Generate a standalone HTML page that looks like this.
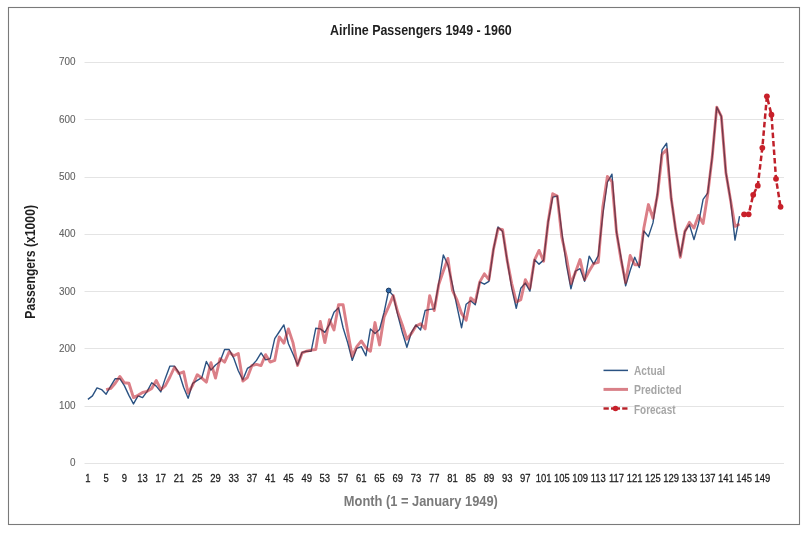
<!DOCTYPE html>
<html><head><meta charset="utf-8"><style>
html,body{margin:0;padding:0;background:#fff;width:811px;height:533px;overflow:hidden}
svg{display:block;font-family:"Liberation Sans",sans-serif}
</style></head><body>
<svg width="811" height="533" viewBox="0 0 811 533">
<rect x="0" y="0" width="811" height="533" fill="#fff"/>
<rect x="8.5" y="7.5" width="791" height="517" fill="none" stroke="#7a7a7a" stroke-width="1.1"/>
<g stroke="#e4e4e4" stroke-width="1"><line x1="84.5" y1="463.5" x2="784" y2="463.5" /><line x1="84.5" y1="406.5" x2="784" y2="406.5" /><line x1="84.5" y1="348.5" x2="784" y2="348.5" /><line x1="84.5" y1="291.5" x2="784" y2="291.5" /><line x1="84.5" y1="234.5" x2="784" y2="234.5" /><line x1="84.5" y1="177.5" x2="784" y2="177.5" /><line x1="84.5" y1="119.5" x2="784" y2="119.5" /><line x1="84.5" y1="62.5" x2="784" y2="62.5" /></g>
<g font-size="11" fill="#636363" stroke="#636363" stroke-width="0.1" text-anchor="end"><text transform="translate(75.4 466.4) scale(0.9 1)">0</text><text transform="translate(75.4 409.1) scale(0.9 1)">100</text><text transform="translate(75.4 351.8) scale(0.9 1)">200</text><text transform="translate(75.4 294.5) scale(0.9 1)">300</text><text transform="translate(75.4 237.3) scale(0.9 1)">400</text><text transform="translate(75.4 180.0) scale(0.9 1)">500</text><text transform="translate(75.4 122.7) scale(0.9 1)">600</text><text transform="translate(75.4 65.4) scale(0.9 1)">700</text></g>
<g font-size="11" fill="#1a1a1a" stroke="#1a1a1a" stroke-width="0.25" text-anchor="middle"><text transform="translate(87.90 482) scale(0.86 1)">1</text><text transform="translate(106.13 482) scale(0.86 1)">5</text><text transform="translate(124.36 482) scale(0.86 1)">9</text><text transform="translate(142.58 482) scale(0.86 1)">13</text><text transform="translate(160.81 482) scale(0.86 1)">17</text><text transform="translate(179.04 482) scale(0.86 1)">21</text><text transform="translate(197.27 482) scale(0.86 1)">25</text><text transform="translate(215.50 482) scale(0.86 1)">29</text><text transform="translate(233.72 482) scale(0.86 1)">33</text><text transform="translate(251.95 482) scale(0.86 1)">37</text><text transform="translate(270.18 482) scale(0.86 1)">41</text><text transform="translate(288.41 482) scale(0.86 1)">45</text><text transform="translate(306.64 482) scale(0.86 1)">49</text><text transform="translate(324.86 482) scale(0.86 1)">53</text><text transform="translate(343.09 482) scale(0.86 1)">57</text><text transform="translate(361.32 482) scale(0.86 1)">61</text><text transform="translate(379.55 482) scale(0.86 1)">65</text><text transform="translate(397.78 482) scale(0.86 1)">69</text><text transform="translate(416.00 482) scale(0.86 1)">73</text><text transform="translate(434.23 482) scale(0.86 1)">77</text><text transform="translate(452.46 482) scale(0.86 1)">81</text><text transform="translate(470.69 482) scale(0.86 1)">85</text><text transform="translate(488.92 482) scale(0.86 1)">89</text><text transform="translate(507.14 482) scale(0.86 1)">93</text><text transform="translate(525.37 482) scale(0.86 1)">97</text><text transform="translate(543.60 482) scale(0.86 1)">101</text><text transform="translate(561.83 482) scale(0.86 1)">105</text><text transform="translate(580.06 482) scale(0.86 1)">109</text><text transform="translate(598.28 482) scale(0.86 1)">113</text><text transform="translate(616.51 482) scale(0.86 1)">117</text><text transform="translate(634.74 482) scale(0.86 1)">121</text><text transform="translate(652.97 482) scale(0.86 1)">125</text><text transform="translate(671.20 482) scale(0.86 1)">129</text><text transform="translate(689.42 482) scale(0.86 1)">133</text><text transform="translate(707.65 482) scale(0.86 1)">137</text><text transform="translate(725.88 482) scale(0.86 1)">141</text><text transform="translate(744.11 482) scale(0.86 1)">145</text><text transform="translate(762.34 482) scale(0.86 1)">149</text></g>
<text x="0" y="0" font-size="15" font-weight="bold" fill="#1f1f1f" transform="translate(330 34.7) scale(0.83 1)">Airline Passengers 1949 - 1960</text>
<text x="0" y="0" font-size="14" font-weight="bold" fill="#7a7a7a" transform="translate(343.8 505.5) scale(0.92 1)">Month (1 = January 1949)</text>
<text x="0" y="0" font-size="14" font-weight="bold" fill="#1f1f1f" transform="translate(34.7 318.7) rotate(-90) scale(0.87 1)">Passengers (x1000)</text>
<polyline points="106.13,389.60 110.69,388.46 115.24,383.30 119.80,376.43 124.36,382.73 128.91,383.30 133.47,397.62 138.03,395.33 142.58,392.47 147.14,391.32 151.70,388.46 156.25,380.44 160.81,389.60 165.37,385.59 169.93,377.00 174.48,367.26 179.04,373.56 183.60,371.84 188.15,393.04 192.71,385.02 197.27,374.71 201.83,378.14 206.38,382.15 210.94,362.68 215.50,378.14 220.05,358.67 224.61,362.10 229.17,351.79 233.72,355.80 238.28,353.51 242.84,381.01 247.40,377.57 251.95,365.54 256.51,364.40 261.07,365.54 265.62,354.66 270.18,362.10 274.74,360.39 279.29,336.90 283.85,343.20 288.41,328.88 292.97,342.63 297.52,365.54 302.08,352.94 306.64,351.22 311.19,350.07 315.75,349.50 320.31,321.43 324.86,342.63 329.42,319.71 333.98,330.02 338.54,304.82 343.09,304.82 347.65,331.17 352.21,356.38 356.76,346.64 361.32,340.91 365.88,347.78 370.43,351.22 374.99,322.58 379.55,344.92 384.11,316.85 388.66,306.54 393.22,295.65 397.78,312.26 402.33,324.87 406.89,339.19 411.45,333.46 416.00,326.01 420.56,323.72 425.12,328.88 429.68,295.65 434.23,310.55 438.79,284.19 443.35,271.02 447.90,258.42 452.46,290.50 457.02,300.23 461.57,313.41 466.13,320.28 470.69,297.94 475.25,301.95 479.80,281.90 484.36,273.88 488.92,279.61 493.47,249.25 498.03,228.63 502.59,229.77 507.14,260.13 511.70,283.62 516.26,301.95 520.82,299.66 525.37,279.61 529.93,288.20 534.49,260.13 539.04,250.40 543.60,261.28 548.16,221.75 552.71,193.68 557.27,195.97 561.83,237.22 566.38,257.27 570.94,283.62 575.50,272.16 580.06,259.56 584.61,279.61 589.17,271.02 593.73,263.57 598.28,262.43 602.84,206.86 607.40,176.50 611.96,181.65 616.51,232.06 621.07,260.13 625.63,282.48 630.18,255.55 634.74,264.72 639.30,264.72 643.85,228.05 648.41,204.57 652.97,218.32 657.52,194.83 662.08,154.16 666.64,149.57 671.20,198.27 675.75,230.35 680.31,257.27 684.87,231.49 689.42,222.33 693.98,228.05 698.54,215.45 703.10,223.47 707.65,194.83 712.21,157.02 716.77,107.18 721.32,116.35 725.88,172.49 730.44,199.41 734.99,226.34 739.55,224.04" fill="none" stroke="#d98088" stroke-width="2.9" stroke-linejoin="round"/>
<polyline points="87.90,399.34 92.46,395.90 97.01,387.88 101.57,389.60 106.13,394.18 110.69,386.16 115.24,378.72 119.80,378.72 124.36,385.59 128.91,395.33 133.47,403.92 138.03,395.90 142.58,397.62 147.14,391.32 151.70,382.73 156.25,386.16 160.81,391.89 165.37,378.14 169.93,366.11 174.48,366.11 179.04,372.99 183.60,387.31 188.15,398.19 192.71,383.30 197.27,380.44 201.83,377.57 206.38,361.53 210.94,370.12 215.50,364.97 220.05,361.53 224.61,349.50 229.17,349.50 233.72,358.09 238.28,370.70 242.84,379.86 247.40,368.41 251.95,365.54 256.51,360.39 261.07,352.94 265.62,359.81 270.18,358.67 274.74,338.62 279.29,331.74 283.85,324.87 288.41,343.77 292.97,354.08 297.52,364.97 302.08,352.37 306.64,351.22 311.19,351.22 315.75,328.31 320.31,328.88 324.86,332.32 329.42,324.30 333.98,312.26 338.54,307.68 343.09,327.73 347.65,342.63 352.21,360.39 356.76,348.36 361.32,346.64 365.88,355.80 370.43,328.88 374.99,333.46 379.55,329.45 384.11,312.26 388.66,290.50 393.22,295.65 397.78,315.13 402.33,332.32 406.89,347.21 411.45,332.32 416.00,324.87 420.56,330.02 425.12,310.55 429.68,309.40 434.23,308.83 438.79,283.05 443.35,254.98 447.90,264.72 452.46,284.77 457.02,306.54 461.57,327.73 466.13,304.24 470.69,300.81 475.25,304.82 479.80,281.90 484.36,284.19 488.92,281.33 493.47,249.25 498.03,226.91 502.59,231.49 507.14,260.13 511.70,288.20 516.26,308.25 520.82,288.20 525.37,283.05 529.93,291.07 534.49,259.56 539.04,264.14 543.60,260.13 548.16,221.75 552.71,197.12 557.27,195.97 561.83,232.06 566.38,264.72 570.94,288.78 575.50,271.02 580.06,268.73 584.61,281.33 589.17,256.12 593.73,264.14 598.28,255.55 602.84,214.31 607.40,182.23 611.96,174.21 616.51,232.06 621.07,257.84 625.63,285.91 630.18,270.45 634.74,257.27 639.30,267.58 643.85,230.92 648.41,236.65 652.97,222.90 657.52,193.11 662.08,149.57 666.64,143.27 671.20,198.27 675.75,230.35 680.31,256.12 684.87,231.49 689.42,224.62 693.98,239.51 698.54,223.47 703.10,199.41 707.65,193.11 712.21,157.02 716.77,107.18 721.32,116.35 725.88,172.49 730.44,199.41 734.99,240.08 739.55,216.02" fill="none" stroke="#2a5282" stroke-width="1.4" stroke-linejoin="round"/>
<polyline points="106.13,389.60 110.69,388.46 115.24,383.30 119.80,376.43 124.36,382.73 128.91,383.30 133.47,397.62 138.03,395.33 142.58,392.47 147.14,391.32 151.70,388.46 156.25,380.44 160.81,389.60 165.37,385.59 169.93,377.00 174.48,367.26 179.04,373.56 183.60,371.84 188.15,393.04 192.71,385.02 197.27,374.71 201.83,378.14 206.38,382.15 210.94,362.68 215.50,378.14 220.05,358.67 224.61,362.10 229.17,351.79 233.72,355.80 238.28,353.51 242.84,381.01 247.40,377.57 251.95,365.54 256.51,364.40 261.07,365.54 265.62,354.66 270.18,362.10 274.74,360.39 279.29,336.90 283.85,343.20 288.41,328.88 292.97,342.63 297.52,365.54 302.08,352.94 306.64,351.22 311.19,350.07 315.75,349.50 320.31,321.43 324.86,342.63 329.42,319.71 333.98,330.02 338.54,304.82 343.09,304.82 347.65,331.17 352.21,356.38 356.76,346.64 361.32,340.91 365.88,347.78 370.43,351.22 374.99,322.58 379.55,344.92 384.11,316.85 388.66,306.54 393.22,295.65 397.78,312.26 402.33,324.87 406.89,339.19 411.45,333.46 416.00,326.01 420.56,323.72 425.12,328.88 429.68,295.65 434.23,310.55 438.79,284.19 443.35,271.02 447.90,258.42 452.46,290.50 457.02,300.23 461.57,313.41 466.13,320.28 470.69,297.94 475.25,301.95 479.80,281.90 484.36,273.88 488.92,279.61 493.47,249.25 498.03,228.63 502.59,229.77 507.14,260.13 511.70,283.62 516.26,301.95 520.82,299.66 525.37,279.61 529.93,288.20 534.49,260.13 539.04,250.40 543.60,261.28 548.16,221.75 552.71,193.68 557.27,195.97 561.83,237.22 566.38,257.27 570.94,283.62 575.50,272.16 580.06,259.56 584.61,279.61 589.17,271.02 593.73,263.57 598.28,262.43 602.84,206.86 607.40,176.50 611.96,181.65 616.51,232.06 621.07,260.13 625.63,282.48 630.18,255.55 634.74,264.72 639.30,264.72 643.85,228.05 648.41,204.57 652.97,218.32 657.52,194.83 662.08,154.16 666.64,149.57 671.20,198.27 675.75,230.35 680.31,257.27 684.87,231.49 689.42,222.33 693.98,228.05 698.54,215.45 703.10,223.47 707.65,194.83 712.21,157.02 716.77,107.18 721.32,116.35 725.88,172.49 730.44,199.41 734.99,226.34 739.55,224.04" fill="none" stroke="#d98088" stroke-width="2.9" stroke-linejoin="round" style="mix-blend-mode:color" stroke-opacity="0.75"/>
<circle cx="388.66" cy="290.50" r="2.4" fill="#2e68a8" stroke="#1c3a60" stroke-width="1"/>

<polyline points="744.11,214.31 748.67,214.31 753.22,194.83 757.78,185.66 762.34,147.85 766.89,96.30 771.45,114.63 776.01,178.79 780.56,206.86" fill="none" stroke="#c0202a" stroke-width="2.5" stroke-dasharray="5.5 3"/>
<g fill="#c8202a"><circle cx="744.11" cy="214.31" r="2.9"/><circle cx="748.67" cy="214.31" r="2.9"/><circle cx="753.22" cy="194.83" r="2.9"/><circle cx="757.78" cy="185.66" r="2.9"/><circle cx="762.34" cy="147.85" r="2.9"/><circle cx="766.89" cy="96.30" r="2.9"/><circle cx="771.45" cy="114.63" r="2.9"/><circle cx="776.01" cy="178.79" r="2.9"/><circle cx="780.56" cy="206.86" r="2.9"/></g>
<line x1="603.5" y1="370.4" x2="628" y2="370.4" stroke="#2a5282" stroke-width="1.5"/>
<line x1="603.5" y1="389.4" x2="628" y2="389.4" stroke="#d98088" stroke-width="3"/>
<g stroke="#b82028" stroke-width="2.4"><line x1="603.5" y1="408.5" x2="608.8" y2="408.5"/><line x1="611" y1="408.5" x2="620" y2="408.5"/><line x1="622.2" y1="408.5" x2="627.5" y2="408.5"/></g>
<circle cx="615.5" cy="408.5" r="2.8" fill="#c8202a"/>
<g font-size="12" font-weight="bold" fill="#a6a6a6">
<text transform="translate(634 374.7) scale(0.85 1)">Actual</text>
<text transform="translate(634 394.3) scale(0.87 1)">Predicted</text>
<text transform="translate(634 414) scale(0.83 1)">Forecast</text>
</g>
</svg>
</body></html>
